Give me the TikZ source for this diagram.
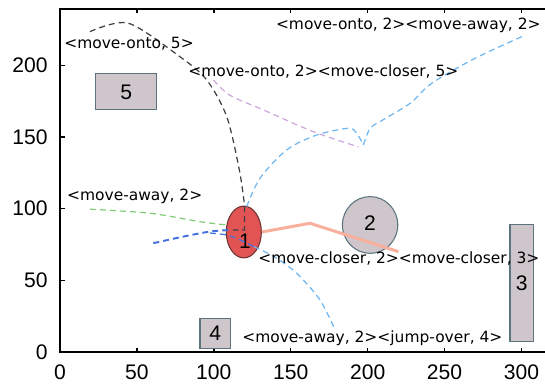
\documentclass[tikz,border=0pt]{standalone}
\usepackage{fontspec}
\setmainfont{DejaVu Sans}
\newfontfamily\axisfont{Liberation Sans}
\usetikzlibrary{shapes.geometric}

\definecolor{objgray}{RGB}{206,198,202}
\definecolor{objedge}{RGB}{92,116,126}
\definecolor{objred}{RGB}{226,84,84}
\definecolor{rededge}{RGB}{110,50,50}
\definecolor{salmon}{RGB}{248,176,156}
\definecolor{lavender}{RGB}{204,168,222}
\definecolor{skyblue}{RGB}{110,182,240}
\definecolor{midblue}{RGB}{66,112,222}
\definecolor{lightgreen}{RGB}{130,204,120}
\definecolor{darkdash}{RGB}{60,64,70}

\begin{document}
\begin{tikzpicture}[x=0.03076cm,y=0.02866cm,font=\fontsize{8.8}{10}\selectfont,
    obj/.style={draw=objedge,fill=objgray,line width=0.6pt,inner sep=0pt},
    num/.style={font=\axisfont\fontsize{12}{14}\selectfont},
    act/.style={anchor=west,inner sep=0pt},
    traj/.style={dash pattern=on 3.4pt off 2.3pt,line width=0.7pt}]
  \useasboundingbox (-39,-24.4) rectangle (315.3,245.6);

  \draw[line width=1.1pt] (315.3,239.4) -- (0,239.4) -- (0,0) -- (315.3,0);
  \foreach \x in {50,100,...,300} {
    \draw[line width=0.8pt] (\x,0) -- (\x,3);
    \draw[line width=0.8pt] (\x,239.4) -- (\x,236.4);
  }
  \foreach \y in {50,100,...,200}
    \draw[line width=0.8pt] (0,\y) -- (3,\y);
  \foreach \x in {0,50,...,300}
    \node[num] at (\x,-14) {\x};
  \foreach \y in {0,50,...,200}
    \node[num,anchor=east,inner sep=0pt] at (-7.8,\y) {\y};

  \node[obj,minimum width=1.23cm,minimum height=0.717cm] (obj5) at (43,181.5) {};
  \node[num] at (obj5) {5};
  \node[obj,minimum width=0.615cm,minimum height=0.599cm] (obj4) at (101,13) {};
  \node[num] at (obj4) {4};
  \node[obj,minimum width=0.464cm,minimum height=2.333cm] (obj3) at (300.1,47.9) {};
  \node[num] at (obj3) {3};
  \node[obj,ellipse,minimum width=1.107cm,minimum height=1.135cm] (obj2) at (201.6,88.6) {};
  \node[num] at (201.6,90) {2};

  \node[ellipse,draw=rededge,fill=objred,line width=0.6pt,inner sep=0pt,
        minimum width=0.701cm,minimum height=1.037cm] (obj1) at (119.5,83.7) {};
  \draw[salmon,line width=1.7pt] (obj1.east) -- (162.5,89.8) -- (220,70);
  \node[num] at (120.3,77) {1};

  \draw[traj,darkdash] plot[smooth] coordinates {(19.5,223.5) (44.4,229.4) (78,206)
    (95.4,189.8) (108.4,164.2) (116.6,127) (120,102)} -- (120,85.1) -- (112.6,85.1);
  \draw[traj,lightgreen] plot[smooth] coordinates {(19.5,99.6) (58.5,96.8) (91,90.9) (108.4,88.6)};
  \draw[traj,midblue,line width=1.1pt] plot[smooth] coordinates {(60.7,75.9) (80.2,80.5) (97.5,84) (110.5,85.1)};
  \draw[traj,midblue] plot[smooth] coordinates {(97.5,83) (108.4,81.6) (117,78.2) (126,73.5)};
  \draw[traj,skyblue] plot[smooth] coordinates {(126,73.5) (140,66) (153.9,54.9) (169,36.3) (178.8,15.4)};
  \draw[traj,lavender] plot[smooth] coordinates {(99.7,189.8) (110.5,179.1) (132.2,168.9) (164.7,153.7) (194,143.1)};
  \draw[traj,skyblue] plot[smooth] coordinates {(121.4,101.4) (130,121.2) (147.4,141) (166.9,151.4)
    (187.5,156.1) (192.9,152.6) (197.2,144.5)};
  \draw[traj,skyblue] plot[smooth] coordinates {(197.2,144.5) (201.6,156.1) (208,160.7) (227.6,173.5)
    (241.7,187.5) (270,205) (300.2,220)};

  \node[act] at (2.6,215.4) {<move-onto, 5>};
  \node[act] at (83.2,196) {<move-onto, 2><move-closer, 5>};
  \node[act] at (140.2,228.2) {<move-onto, 2><move-away, 2>};
  \node[act] at (4.4,108.5) {<move-away, 2>};
  \node[act] at (128.7,65.4) {<move-closer, 2><move-closer, 3>};
  \node[act] at (118.3,9.5) {<move-away, 2><jump-over, 4>};
\end{tikzpicture}
\end{document}
